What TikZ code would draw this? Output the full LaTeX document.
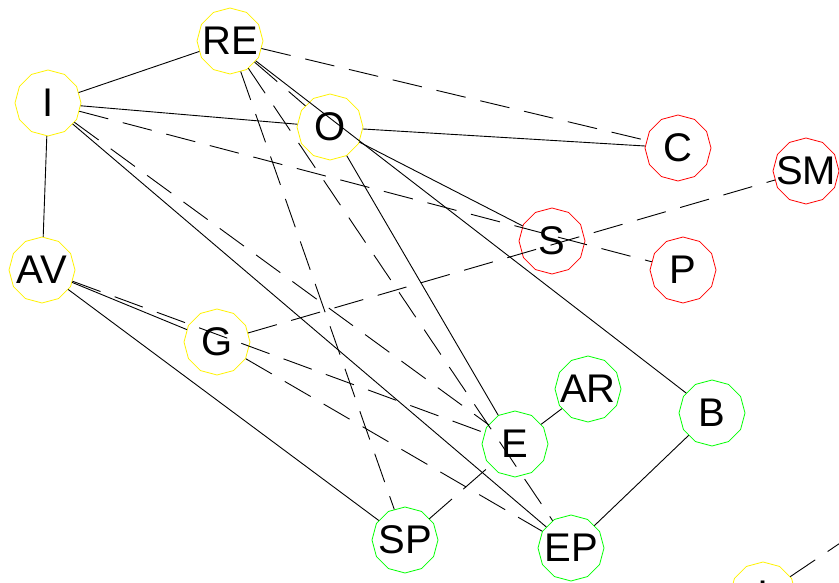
\documentclass[tikz,border=0pt]{standalone}
\usepackage{fontspec}
\setmainfont{Liberation Sans}
\usetikzlibrary{shapes.geometric}
\newcommand\lbl[1]{\makebox[0pt]{#1}}
\begin{document}
\begin{tikzpicture}[x=1pt,y=-1pt,
  vtx/.style={regular polygon, regular polygon sides=12, shape border rotate=15,
    minimum size=66pt, inner sep=0pt, line width=0.8pt,
    font=\fontsize{40}{40}\selectfont},
  yel/.style={vtx,draw=yellow},
  redn/.style={vtx,draw=red},
  grn/.style={vtx,draw=green},
  sl/.style={draw=black,line width=0.9pt},
  dl/.style={draw=black,line width=0.9pt,dash pattern=on 30pt off 15pt}]
\useasboundingbox (0,0) rectangle (839,583);
% yellow nodes
\node[yel] (RE) at (230,41) {\lbl{RE}};
\node[yel] (I) at (48,103) {\lbl{I}};
\node[yel] (O) at (330,127) {\lbl{O}};
\node[yel] (AV) at (42,270) {\lbl{AV}};
\node[yel] (G) at (217,342) {\lbl{G}};
\node[yel] (I2) at (763,595) {\lbl{I}};
% red nodes
\node[redn] (C) at (678,148) {\lbl{C}};
\node[redn] (SM) at (806,171) {\lbl{SM}};
\node[redn] (S) at (552,241) {\lbl{S}};
\node[redn] (P) at (683,270) {\lbl{P}};
% green nodes
\node[grn] (E) at (515,444) {\lbl{E}};
\node[grn] (AR) at (588,389) {\lbl{AR}};
\node[grn] (B) at (712,413) {\lbl{B}};
\node[grn] (SP) at (405,540) {\lbl{SP}};
\node[grn] (EP) at (571,548) {\lbl{EP}};
\coordinate (off) at (913,494);
% solid edges
\draw[sl] (I) -- (RE);
\draw[sl] (I) -- (O);
\draw[sl] (I) -- (AV);
\draw[sl] (I) -- (EP);
\draw[sl] (RE) -- (B);
\draw[sl] (O) -- (C);
\draw[sl] (O) -- (S);
\draw[sl] (O) -- (E);
\draw[sl] (AV) -- (G);
\draw[sl] (AV) -- (SP);
\draw[sl] (E) -- (AR);
\draw[sl] (EP) -- (B);
% dashed edges
\draw[dl] (RE) -- (C);
\draw[dl] (RE) -- (O);
\draw[dl] (RE) -- (SP);
\draw[dl] (RE) -- (EP);
\draw[dl] (I) -- (P);
\draw[dl] (I) -- (E);
\draw[dl] (AV) -- (E);
\draw[dl] (G) -- (EP);
\draw[dl] (G) -- (SM);
\draw[dl] (SP) -- (E);
\draw[dl] (I2) -- (off);
\end{tikzpicture}
\end{document}
